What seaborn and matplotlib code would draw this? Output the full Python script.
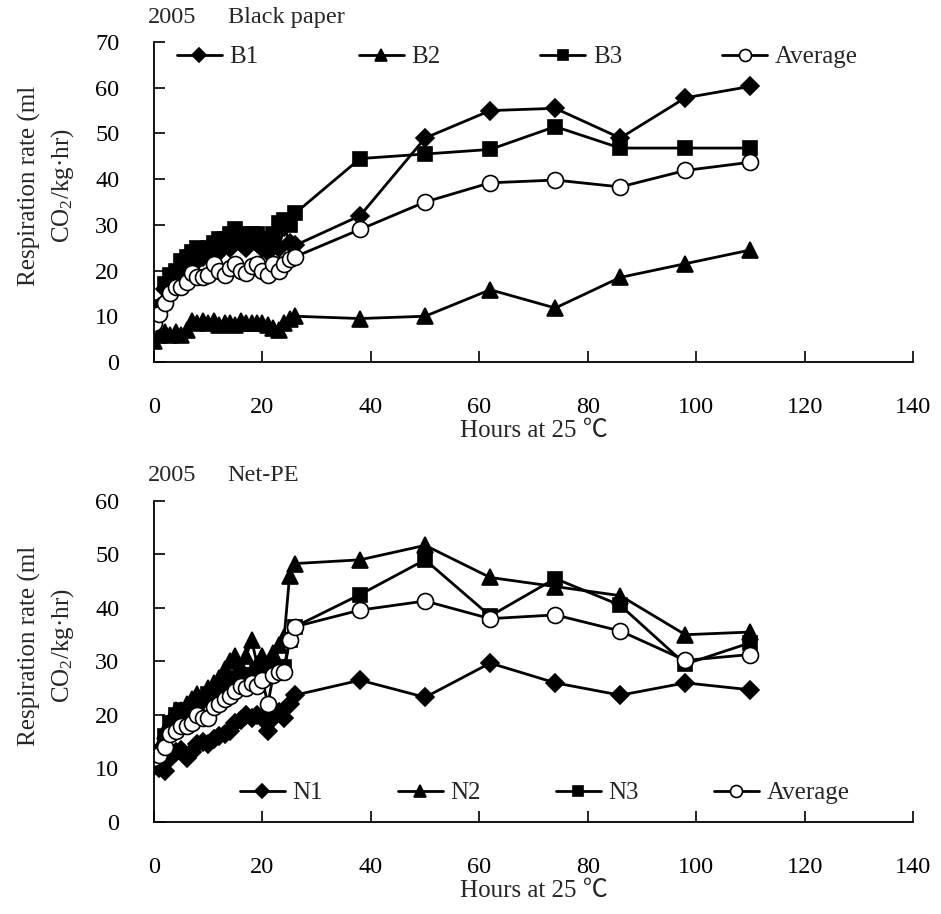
import numpy as np
import pandas as pd
import seaborn as sns
import matplotlib.pyplot as plt

sns.set_style('ticks')
plt.rcParams['font.family'] = ['Liberation Serif', 'Noto Sans CJK SC']
plt.rcParams['mathtext.default'] = 'regular'

# hours at 25 C (same sampling for both panels)
hours = [0, 1, 2, 3, 4, 5, 6, 7, 8, 9, 10, 11, 12, 13, 14, 15, 16, 17, 18, 19, 20,
         21, 22, 23, 24, 25, 26, 38, 50, 62, 74, 86, 98, 110]

# 2005 black paper
b1 = [10.5, 12, 16, 18, 20, 21, 22, 23, 22, 23, 24, 25, 24, 26, 25, 27, 26, 25, 27, 26, 25,
      24, 26, 25, 29.5, 26, 25.5, 32, 49, 55, 55.5, 49, 57.8, 60.3]
b2 = [4.5, 6, 6.5, 5.8, 6.5, 6, 7, 9, 8.5, 9, 8.5, 9, 8, 8.5, 8.5, 8, 9, 8.5, 8.5, 8.5, 8.5,
      8, 7.5, 7, 8.5, 9.5, 10, 9.5, 10, 15.8, 11.8, 18.5, 21.5, 24.5]
b3 = [9, 12, 17, 19, 20, 22, 23, 24, 25, 24, 25, 26, 27, 27, 28, 29, 28, 27, 28, 28, 27,
      27, 28, 30.5, 31, 30, 32.5, 44.5, 45.5, 46.5, 51.5, 46.8, 46.8, 46.8]
b_avg = [8.5, 10.5, 13, 15, 16.5, 16.5, 17.5, 19.5, 18.5, 18.5, 19, 21.5, 20, 19, 20.5, 21.5,
         20, 19.5, 21, 21.5, 20, 19, 21.5, 20, 21.5, 22.5, 23, 29, 35, 39.2, 39.8, 38.3, 41.9, 43.7]

# 2005 Net-PE
n1 = [10.5, 10, 9.5, 12, 13, 13.5, 12, 13, 14.5, 15, 14.5, 15.5, 16, 16.5, 17, 18.5, 19, 20,
      19.5, 20, 19.5, 17, 19.5, 20.5, 19.5, 22, 23.7, 26.5, 23.3, 29.7, 26, 23.7, 26, 24.7]
n2 = [12, 14, 17, 19, 21, 21, 22, 23, 24, 23, 25, 26, 27, 28.5, 30, 31, 29, 31, 34, 29.5, 31,
      29.5, 31.5, 33, 34.5, 46, 48.3, 49, 51.7, 45.7, 44, 42.3, 35, 35.5]
n3 = [12, 13, 16, 18.5, 20, 21, 20.5, 21, 22, 23, 24, 24.5, 25, 25.5, 26.5, 27, 27.5, 26,
      27.5, 28, 28.5, 27.5, 28.5, 29, 29, 34, 36.5, 42.5, 49, 38.5, 45.5, 40.5, 29.5, 33.5]
n_avg = [12, 12.5, 14, 16.5, 17, 18, 18, 18.5, 20, 19.5, 19.5, 21.5, 22, 23, 23.5, 24.5, 25.5,
         25, 26, 25.5, 26.5, 22, 27.5, 28, 28, 34, 36.5, 39.6, 41.3, 38, 38.7, 35.7, 30.2, 31.3]

marker_style = {
    'D': dict(markersize=9.5, markerfacecolor='black'),
    '^': dict(markersize=11, markerfacecolor='black'),
    's': dict(markersize=9.5, markerfacecolor='black'),
    'o': dict(markersize=11.5, markerfacecolor='white'),
}

fig = plt.figure(figsize=(9.41, 9.14), dpi=100)
ax1 = fig.add_axes([0.1637, 0.604, 0.8066, 0.350])
ax2 = fig.add_axes([0.1637, 0.1007, 0.8066, 0.3512])

panels = [
    (ax1, [('B1', b1, 'D'), ('B2', b2, '^'), ('B3', b3, 's'), ('Average', b_avg, 'o')],
     'Black paper', 70, 0.953, 0.03, 4.0),
    (ax2, [('N1', n1, 'D'), ('N2', n2, '^'), ('N3', n3, 's'), ('Average', n_avg, 'o')],
     'Net-PE', 60, 0.09, 0.113, 3.0),
]

for ax, series, title, ymax, leg_y, leg_x, colsp in panels:
    for name, vals, mk in series:
        df = pd.DataFrame({'h': hours, 'v': vals})
        sns.lineplot(data=df, x='h', y='v', ax=ax, color='black', linewidth=2,
                     marker=mk, markeredgecolor='black', markeredgewidth=1.2,
                     label=name, **marker_style[mk])
    ax.set_xlim(0, 140)
    ax.set_ylim(0, ymax)
    ax.set_xticks(np.arange(0, 141, 20))
    ax.set_yticks(np.arange(0, ymax + 1, 10))
    sns.despine(ax=ax)
    for s in ['left', 'bottom']:
        ax.spines[s].set_linewidth(1.3)
        ax.spines[s].set_color('black')
    ax.tick_params(axis='both', direction='in', length=8, width=1.2, labelsize=17.5,
                   pad=25, colors='black')
    ax.set_xlabel('Hours at 25 ℃', fontsize=18)
    ax.xaxis.set_label_coords(0.5, -0.182)
    ax.set_ylabel('Respiration rate (ml\nCO$_2$/kg·hr)', fontsize=18, linespacing=1.4)
    ax.yaxis.set_label_coords(-0.103, 0.55)
    ax.text(-0.008, 1.078, '2005', transform=ax.transAxes, fontsize=17.5, va='center', ha='left')
    ax.text(0.097, 1.078, title, transform=ax.transAxes, fontsize=17.5, va='center', ha='left')
    ax.legend(loc='center left', bbox_to_anchor=(leg_x, leg_y), ncol=4, frameon=False,
              fontsize=18, handlelength=1.8, handletextpad=0.3, columnspacing=colsp,
              borderaxespad=0, borderpad=0, markerscale=0.75)

fig.savefig('out.png', dpi=100)
